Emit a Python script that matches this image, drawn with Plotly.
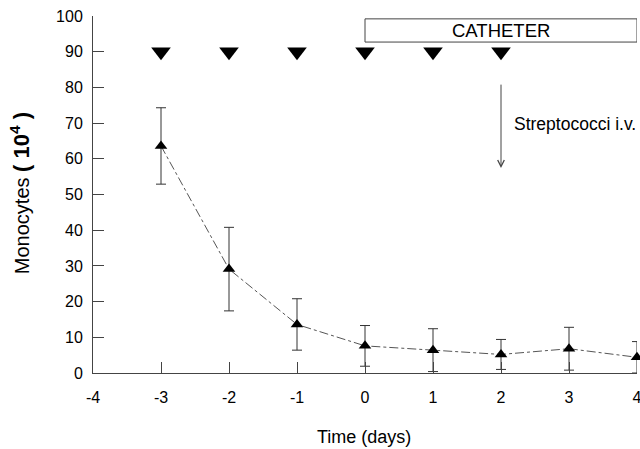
import plotly.graph_objects as go

days = [-3, -2, -1, 0, 1, 2, 3, 4]
monocytes = [63.6, 29.1, 13.6, 7.6, 6.4, 5.2, 6.8, 4.4]
err = [10.7, 11.7, 7.2, 5.7, 6.0, 4.2, 6.0, 4.4]
dose_days = [-3, -2, -1, 0, 1, 2]
dose_level = [90, 90, 90, 90, 90, 90]
x_ticks = [-4, -3, -2, -1, 0, 1, 2, 3, 4]
x_tick_labels = ["-4", "-3", "-2", "-1", "0", "1", "2", "3", "4"]
y_ticks = [0, 10, 20, 30, 40, 50, 60, 70, 80, 90, 100]

font = "Liberation Sans, Arial, sans-serif"

fig = go.Figure()
fig.add_trace(go.Scatter(
    x=days, y=monocytes, mode="lines+markers",
    line=dict(color="#555", width=1, dash="dashdot"),
    marker=dict(symbol="triangle-up", size=11, color="black"),
    error_y=dict(type="data", array=err, visible=True, color="#333", thickness=1, width=5),
    showlegend=False, cliponaxis=False,
))
fig.add_trace(go.Scatter(
    x=dose_days, y=dose_level, mode="markers",
    marker=dict(symbol="triangle-down", size=17, color="black"),
    showlegend=False,
))

fig.add_shape(type="rect", x0=0, x1=4, y0=92.7, y1=99.2, xref="x", yref="y",
              line=dict(color="#444", width=1), fillcolor="white")
fig.add_annotation(x=2, y=96, text="CATHETER", showarrow=False,
                   font=dict(family=font, size=18.5, color="black"))
fig.add_annotation(x=2, y=57.4, ax=2, ay=81.2, xref="x", yref="y", axref="x", ayref="y",
                   text="", showarrow=True, arrowhead=5, arrowsize=1.3, arrowwidth=1,
                   arrowcolor="#444")
fig.add_annotation(x=2.16, y=69.7, text="Streptococci i.v.", showarrow=False,
                   xanchor="left", font=dict(family=font, size=17.5, color="black"))

# axis titles as annotations (fixed positions)
fig.add_annotation(xref="paper", yref="paper", x=0.498, y=-0.178,
                   xanchor="center", yanchor="middle",
                   text="Time (days)", showarrow=False,
                   font=dict(family=font, size=18, color="black"))
fig.add_annotation(xref="paper", yref="paper", x=-0.134, y=0.504,
                   xanchor="center", yanchor="middle",
                   text="Monocytes <span style='font-size:22px'><b>( 10<sup>4</sup> )</b></span>",
                   showarrow=False, textangle=-90,
                   font=dict(family=font, size=20, color="black"))

fig.update_layout(
    width=640, height=449,
    margin=dict(l=93, r=3, t=16, b=76),
    paper_bgcolor="white", plot_bgcolor="white",
    font=dict(family=font, size=16, color="black"),
)
fig.update_xaxes(
    range=[-4, 4], tickvals=x_ticks, ticktext=x_tick_labels,
    ticks="inside", ticklen=11, tickcolor="#444",
    showline=True, linecolor="#444", linewidth=1, showgrid=False, zeroline=False,
    ticklabelstandoff=10, automargin=False, ticklabeloverflow="allow",
)
fig.update_yaxes(
    range=[0, 100], tickvals=y_ticks, ticks="inside", ticklen=11, tickcolor="#444",
    showline=True, linecolor="#444", linewidth=1, showgrid=False, zeroline=False,
    ticklabelstandoff=6, automargin=False, ticklabeloverflow="allow",
)

fig.write_html(
    "out.html",
    config={"displayModeBar": False},
    post_script="document.body.style.margin='0';document.body.style.overflow='hidden';",
)
